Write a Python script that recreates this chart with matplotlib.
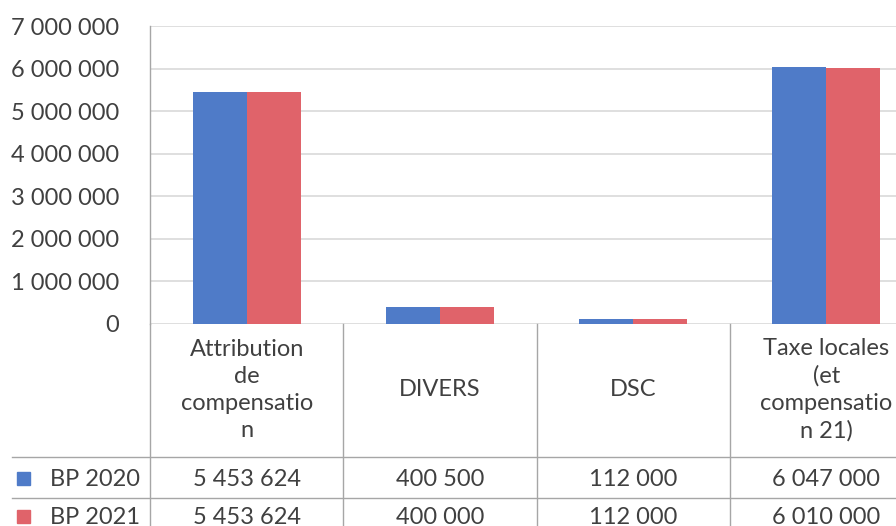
import matplotlib
matplotlib.use("Agg")
import matplotlib.pyplot as plt
from matplotlib.transforms import blended_transform_factory
from matplotlib.patches import Rectangle

categories = ["Attribution\nde\ncompensatio\nn", "DIVERS", "DSC", "Taxe locales\n(et\ncompensatio\nn 21)"]
series_names = ["BP 2020", "BP 2021"]
bp2020 = [5453624, 400500, 112000, 6047000]
bp2021 = [5453624, 400000, 112000, 6010000]
ytick_values = [0, 1000000, 2000000, 3000000, 4000000, 5000000, 6000000, 7000000]

colors = ["#4F7BC8", "#E0636A"]
text_color = "#404040"
grid_color = "#D9D9D9"
table_color = "#A6A6A6"

plt.rcParams['font.family'] = ['Lato', 'DejaVu Sans']

W, H = 896, 526
fig = plt.figure(figsize=(W / 100, H / 100), dpi=100)

def fx(px):
    return px / W

def fy(py):
    return 1 - py / H

FS = 17

ax_left, ax_right, ax_top, ax_bot = 150, 923, 26, 324
ax = fig.add_axes([fx(ax_left), fy(ax_bot), fx(ax_right - ax_left), (ax_bot - ax_top) / H])

def fmt(v):
    return f"{v:,}".replace(",", " ")

n = len(categories)
xs = list(range(n))
bw = 0.28
ax.bar([x - bw / 2 for x in xs], bp2020, width=bw, color=colors[0], zorder=3)
ax.bar([x + bw / 2 for x in xs], bp2021, width=bw, color=colors[1], zorder=3)

ax.set_xlim(-0.5, n - 0.5)
ax.set_ylim(0, 7000000)
ax.set_yticks(ytick_values)
ax.set_yticklabels([fmt(v) for v in ytick_values])
ax.tick_params(axis='y', length=0, pad=22, labelsize=FS, labelcolor=text_color)
ax.set_xticks([])
ax.grid(axis='y', color=grid_color, linewidth=1.2, zorder=0)
for s in ["top", "right", "bottom"]:
    ax.spines[s].set_visible(False)
ax.spines["left"].set_color(table_color)
ax.spines["left"].set_linewidth(1.0)

# table
tr = blended_transform_factory(ax.transData, fig.transFigure)
for b in [x - 0.5 for x in xs]:
    ax.plot([b, b], [fy(ax_bot), 0], transform=tr, color=table_color, lw=1.0, clip_on=False)

for py in [457, 498]:
    fig.add_artist(plt.Line2D([fx(12), 1], [fy(py), fy(py)], color=table_color, lw=1.0))

for i, c in enumerate(categories):
    ax.text(i, fy(390), c, transform=tr, ha='center', va='center', fontsize=FS,
            color=text_color, linespacing=1.36)
    ax.text(i, fy(479), fmt(bp2020[i]), transform=tr, ha='center', va='center',
            fontsize=FS, color=text_color)
    ax.text(i, fy(517), fmt(bp2021[i]), transform=tr, ha='center', va='center',
            fontsize=FS, color=text_color)

for name, col, py in zip(series_names, colors, [479, 517]):
    fig.add_artist(Rectangle((fx(17), fy(py + 6)), fx(13), 13 / H, color=col,
                             transform=fig.transFigure))
    fig.text(fx(50), fy(py), name, ha='left', va='center', fontsize=FS, color=text_color)

fig.savefig("out.png", dpi=100)
